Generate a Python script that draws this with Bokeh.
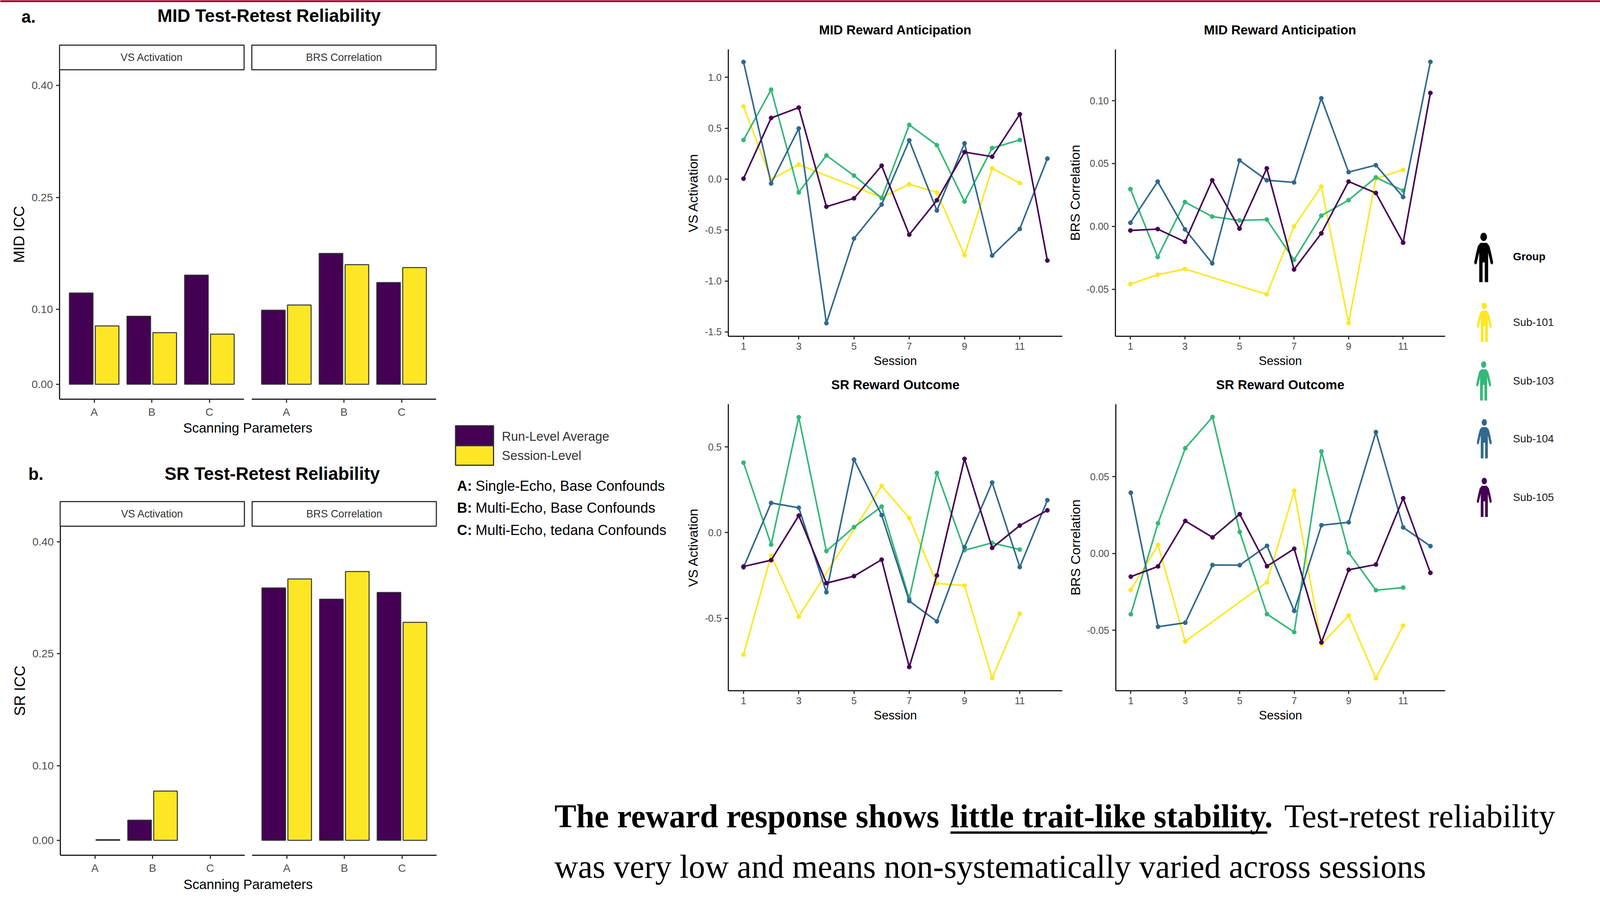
import math
from bokeh.plotting import figure
from bokeh.models import Range1d, FixedTicker, NumeralTickFormatter
from bokeh.core.properties import value
from bokeh.embed import file_html
from bokeh.resources import INLINE

NAN = float("nan")

# ---------- bar data ----------
params = ["A", "B", "C"]
mid_vs_run = [0.122, 0.091, 0.146]
mid_vs_session = [0.078, 0.069, 0.067]
mid_brs_run = [0.099, 0.175, 0.136]
mid_brs_session = [0.106, 0.160, 0.156]
sr_vs_run = [NAN, 0.027, NAN]
sr_vs_session = [0.001, 0.066, NAN]
sr_brs_run = [0.338, 0.323, 0.332]
sr_brs_session = [0.350, 0.360, 0.292]
icc_ticks = [0.0, 0.10, 0.25, 0.40]

# ---------- line data ----------
sessions_all = [1, 2, 3, 4, 5, 6, 7, 8, 9, 10, 11, 12]
sessions_101 = [1, 2, 3, 6, 7, 8, 9, 10, 11]
sessions_103 = [1, 2, 3, 4, 5, 6, 7, 8, 9, 10, 11]
session_ticks = [1, 3, 5, 7, 9, 11]
subjects = ["Sub-101", "Sub-103", "Sub-104", "Sub-105"]

mid_vs_101 = [0.714, -0.002, 0.143, -0.18, -0.05, -0.13, -0.747, 0.106, -0.038]
mid_vs_103 = [0.385, 0.879, -0.13, 0.233, 0.035, -0.186, 0.533, 0.334, -0.22, 0.305, 0.385]
mid_vs_104 = [1.151, -0.042, 0.498, -1.414, -0.583, -0.249, 0.381, -0.308, 0.352, -0.75, -0.489, 0.202]
mid_vs_105 = [0.005, 0.601, 0.703, -0.27, -0.188, 0.132, -0.545, -0.207, 0.266, 0.221, 0.637, -0.799]

mid_brs_101 = [-0.0458, -0.0384, -0.0338, -0.054, 0.0, 0.0317, -0.0768, 0.0382, 0.045]
mid_brs_103 = [0.0297, -0.0243, 0.0194, 0.0078, 0.0048, 0.0055, -0.0266, 0.0086, 0.0209, 0.039, 0.0285]
mid_brs_104 = [0.0029, 0.0357, -0.0023, -0.0293, 0.0525, 0.0367, 0.035, 0.1019, 0.0432, 0.0487, 0.0234, 0.1308]
mid_brs_105 = [-0.0032, -0.0021, -0.0122, 0.0367, -0.0017, 0.0462, -0.0342, -0.0055, 0.0357, 0.0266, -0.0129, 0.1061]

sr_vs_101 = [-0.712, -0.134, -0.49, 0.272, 0.085, -0.297, -0.309, -0.849, -0.473]
sr_vs_103 = [0.408, -0.07, 0.673, -0.108, 0.032, 0.152, -0.385, 0.348, -0.103, -0.06, -0.099]
sr_vs_104 = [-0.203, 0.173, 0.145, -0.348, 0.426, 0.102, -0.399, -0.518, -0.085, 0.292, -0.201, 0.189]
sr_vs_105 = [-0.198, -0.161, 0.099, -0.295, -0.254, -0.158, -0.784, -0.25, 0.43, -0.089, 0.041, 0.13]

sr_brs_101 = [-0.0237, 0.0056, -0.0573, -0.0187, 0.0409, -0.0591, -0.0404, -0.0813, -0.047]
sr_brs_103 = [-0.0396, 0.0197, 0.0686, 0.0889, 0.014, -0.0395, -0.0512, 0.0665, 0.0005, -0.0239, -0.0222]
sr_brs_104 = [0.0396, -0.0477, -0.0451, -0.0075, -0.0076, 0.005, -0.0374, 0.0184, 0.0203, 0.0791, 0.017, 0.0048]
sr_brs_105 = [-0.0151, -0.0084, 0.0212, 0.0105, 0.0256, -0.0083, 0.0031, -0.0579, -0.0106, -0.0072, 0.036, -0.0126]

# ---------- styling ----------
PURPLE, YELLOW, GREEN, BLUE = "#440154", "#FDE725", "#35B779", "#31688E"
SANS, SERIF = "Liberation Sans", "Liberation Serif"
REF_W, W, H = 5176, 4096, 2303   # the browser window really is 4096 wide
SX = W / REF_W
FS = 0.79


def place(fig, x, y):
    fig.styles = {"position": "absolute", "left": f"{round(x)}px", "top": f"{round(y)}px"}
    return fig


# the overlay keeps the reference's pixel coordinates as its data space
overlay = figure(width=W, height=H, x_range=Range1d(0, REF_W), y_range=Range1d(H, 0),
                 x_axis_location=None, y_axis_location=None,
                 output_backend="svg", toolbar_location=None,
                 min_border_left=0, min_border_right=0, min_border_top=0, min_border_bottom=0,
                 outline_line_color=None)
overlay.grid.visible = False
overlay.background_fill_color = None
overlay.border_fill_color = None


def txt(x, y, s, size, font=SANS, style="normal", color="#000000", align="left"):
    overlay.text([x], [y], text=[s], text_font=value(font), text_font_size=f"{size * FS:.1f}px",
                 text_font_style=style, text_color=color, text_align=align,
                 text_baseline="middle")


def person(cx, top, height, width, color):
    half = [(0, .21), (.17, .21), (.30, .27), (.40, .42), (.50, .60), (.47, .64), (.39, .63),
            (.25, .40), (.23, .42), (.23, 1), (.07, 1), (.07, .60), (0, .60)]
    xs = [cx + p[0] * width for p in half] + [cx - p[0] * width for p in reversed(half)]
    ys = [top + p[1] * height for p in half] + [top + p[1] * height for p in reversed(half)]
    overlay.patch(xs, ys, fill_color=color, line_color=color, line_width=1)
    overlay.ellipse([cx], [top + .085 * height], width=.36 * width, height=.17 * height,
                    fill_color=color, line_color=None)


def strip(x0, x1, y0, y1, label):
    overlay.quad(left=[x0], right=[x1], top=[y0], bottom=[y1], fill_color="#FFFFFF",
                 line_color="#333333", line_width=3)
    txt((x0 + x1) / 2, (y0 + y1) / 2, label, 34, color="#333333", align="center")


def style_axes(p, tick_size, label_size):
    p.grid.visible = False
    p.outline_line_color = None
    p.background_fill_color = None
    p.border_fill_color = None
    for ax in p.axis:
        ax.axis_line_color = "#1a1a1a"
        ax.axis_line_width = 3
        ax.major_tick_line_color = "#333333"
        ax.major_tick_line_width = 3
        ax.major_tick_in = 0
        ax.major_tick_out = 9
        ax.minor_tick_line_color = None
        ax.major_label_text_font = SANS
        ax.major_label_text_font_size = f"{tick_size}px"
        ax.major_label_text_color = "#4D4D4D"
        ax.major_label_standoff = 8
        ax.axis_label_text_font = SANS
        ax.axis_label_text_font_size = f"{label_size}px"
        ax.axis_label_text_font_style = "normal"
        ax.axis_label_text_color = "#000000"


BAR_LEFT = 150


def bar_facet(x0, x1, y0, y1, run, session, show_y, ylabel):
    left = BAR_LEFT if show_y else 6
    fw = round((x1 - x0) * SX)
    fh = y1 - y0
    p = figure(width=left + fw + 5, height=5 + fh + 70,
               x_range=Range1d(0.4, 3.6), y_range=Range1d(-0.02, 0.4207),
               output_backend="svg", toolbar_location=None,
               min_border_left=left, min_border_right=5, min_border_top=5, min_border_bottom=70)
    style_axes(p, 28, 38)
    positions = list(range(1, len(params) + 1))
    for vals, off, col in ((run, -0.225, PURPLE), (session, 0.225, YELLOW)):
        xs = [q + off for q, v in zip(positions, vals) if not math.isnan(v)]
        ys = [v for v in vals if not math.isnan(v)]
        p.vbar(x=xs, top=ys, bottom=0, width=0.41, fill_color=col, line_color="#333333", line_width=2.5)
    p.xaxis.ticker = FixedTicker(ticks=positions)
    p.xaxis.major_label_overrides = {q: c for q, c in zip(positions, params)}
    p.yaxis.ticker = FixedTicker(ticks=icc_ticks)
    p.yaxis.formatter = NumeralTickFormatter(format="0.00")
    if show_y:
        p.yaxis.axis_label = ylabel
        p.yaxis.axis_label_standoff = 8
    else:
        p.yaxis.visible = False
    return place(p, x0 * SX - left, y0 - 5)


LINE_LEFT = 150


def line_panel(x0, x1, y0, y1, ylim, yticks, fmt, ylabel, series):
    fw = round((x1 - x0) * SX)
    fh = y1 - y0
    p = figure(width=LINE_LEFT + fw + 5, height=5 + fh + 100,
               x_range=Range1d(0.45, 12.54), y_range=Range1d(*ylim),
               output_backend="svg", toolbar_location=None,
               min_border_left=LINE_LEFT, min_border_right=5, min_border_top=5, min_border_bottom=100)
    style_axes(p, 25, 34)
    for (xs, ys), col in zip(series, (YELLOW, GREEN, BLUE, PURPLE)):
        p.line(xs, ys, line_color=col, line_width=4)
        p.scatter(xs, ys, size=11, fill_color=col, line_color=col)
    p.xaxis.ticker = FixedTicker(ticks=session_ticks)
    p.xaxis.major_tick_out = 8
    p.xaxis.major_label_standoff = 8
    p.xaxis.axis_label = "Session"
    p.xaxis.axis_label_text_font_size = "31px"
    p.xaxis.axis_label_standoff = 8
    p.yaxis.ticker = FixedTicker(ticks=yticks)
    p.yaxis.formatter = NumeralTickFormatter(format=fmt)
    p.yaxis.axis_label = ylabel
    p.yaxis.axis_label_standoff = 8
    return place(p, x0 * SX - LINE_LEFT, y0 - 5)


# ---------- page furniture ----------
overlay.quad(left=[0], right=[REF_W], top=[0], bottom=[5], fill_color="#A00030", line_color=None)

txt(69, 42, "a.", 55, style="bold")
txt(870, 40, "MID Test-Retest Reliability", 58, style="bold", align="center")
strip(192, 789, 115, 178, "VS Activation")
strip(814, 1410, 115, 178, "BRS Correlation")
txt(801, 1094, "Scanning Parameters", 43.6, align="center")

txt(91, 1212, "b.", 55, style="bold")
txt(880, 1212, "SR Test-Retest Reliability", 58, style="bold", align="center")
strip(194, 790, 1283, 1346, "VS Activation")
strip(815, 1411, 1283, 1346, "BRS Correlation")
txt(802, 2262, "Scanning Parameters", 43.6, align="center")

overlay.quad(left=[1473], right=[1596], top=[1089], bottom=[1140], fill_color=PURPLE, line_color="#333333", line_width=3)
overlay.quad(left=[1473], right=[1596], top=[1140], bottom=[1190], fill_color=YELLOW, line_color="#333333", line_width=3)
txt(1623, 1116, "Run-Level Average", 41, color="#333333")
txt(1623, 1165, "Session-Level", 41, color="#333333")

legend_rows = [("A:", "Single-Echo, Base Confounds", 1243),
               ("B:", "Multi-Echo, Base Confounds", 1299),
               ("C:", "Multi-Echo, tedana Confounds", 1356)]
for key, rest, y in legend_rows:
    txt(1478, y, key, 46, style="bold")
    txt(1538, y, rest, 46)

for x, y, s in ((2896, 76, "MID Reward Anticipation"), (4141, 76, "MID Reward Anticipation"),
                (2896, 984, "SR Reward Outcome"), (4141, 984, "SR Reward Outcome")):
    txt(x, y, s, 42, style="bold", align="center")

person(4799, 595, 126, 60, "#000000")
txt(4894, 656, "Group", 35, style="bold")
for cx, top, name, col in ((4801, 774, subjects[0], YELLOW), (4799, 924, subjects[1], GREEN),
                           (4801, 1072, subjects[2], BLUE), (4801, 1222, subjects[3], PURPLE)):
    person(cx, top, 100, 47, col)
    txt(4894, top + 50, name, 35, color="#1a1a1a")

txt(1793, 2088, "The reward response shows", 106, font=SERIF, style="bold")
txt(3074, 2088, "little trait-like stability.", 106, font=SERIF, style="bold")
overlay.quad(left=[3074], right=[4099], top=[2127], bottom=[2133], fill_color="#000000", line_color=None)
txt(4154, 2088, "Test-retest reliability", 106, font=SERIF)
txt(1793, 2217, "was very low and means non-systematically varied across sessions", 106, font=SERIF)

# ---------- panels: separate roots so that Bokeh does not align their frames ----------
children = [
    place(overlay, 0, 0),
    bar_facet(192, 789, 178, 1021, mid_vs_run, mid_vs_session, True, "MID ICC"),
    bar_facet(814, 1410, 178, 1021, mid_brs_run, mid_brs_session, False, ""),
    bar_facet(194, 790, 1346, 2188, sr_vs_run, sr_vs_session, True, "SR ICC"),
    bar_facet(815, 1411, 1346, 2188, sr_brs_run, sr_brs_session, False, ""),
    line_panel(2355, 3435, 126, 860, (-1.543, 1.274), [-1.5, -1.0, -0.5, 0.0, 0.5, 1.0], "0.0", "VS Activation",
               [(sessions_101, mid_vs_101), (sessions_103, mid_vs_103), (sessions_all, mid_vs_104), (sessions_all, mid_vs_105)]),
    line_panel(3608, 4674, 126, 860, (-0.0873, 0.1407), [-0.05, 0.0, 0.05, 0.10], "0.00", "BRS Correlation",
               [(sessions_101, mid_brs_101), (sessions_103, mid_brs_103), (sessions_all, mid_brs_104), (sessions_all, mid_brs_105)]),
    line_panel(2355, 3435, 1034, 1767, (-0.9227, 0.7486), [-0.5, 0.0, 0.5], "0.0", "VS Activation",
               [(sessions_101, sr_vs_101), (sessions_103, sr_vs_103), (sessions_all, sr_vs_104), (sessions_all, sr_vs_105)]),
    line_panel(3609, 4674, 1034, 1767, (-0.0894, 0.0972), [-0.05, 0.0, 0.05], "0.00", "BRS Correlation",
               [(sessions_101, sr_brs_101), (sessions_103, sr_brs_103), (sessions_all, sr_brs_104), (sessions_all, sr_brs_105)]),
]

open("out.html", "w").write(file_html(children, INLINE))
